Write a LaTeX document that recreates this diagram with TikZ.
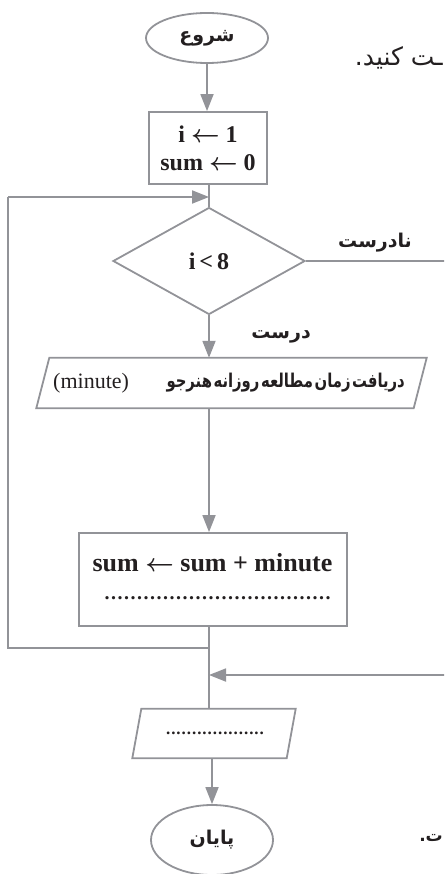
\documentclass[tikz,border=0pt]{standalone}
\usepackage{fontspec}
\setmainfont{Liberation Serif}
\newfontfamily\fa[Script=Arabic]{DejaVu Sans}
\newfontfamily\facond[Script=Arabic,FakeStretch=0.78,WordSpace=0.3]{DejaVu Sans}
\TeXXeTstate=1
\usetikzlibrary{arrows.meta,shapes.geometric}
\definecolor{ln}{RGB}{146,147,152}
\definecolor{tx}{RGB}{35,31,32}
\newcommand\dotrowx[3]{\fontsize{#3}{#3}\selectfont\bfseries\foreach \k in {1,...,#1}{\makebox[#2]{.}}}
\newcommand\larr{{\boldmath$\leftarrow$}}
\begin{document}
\begin{tikzpicture}[x=1pt,y=-1pt,
  every node/.style={text=tx},
  lin/.style={draw=ln,line width=1.8pt},
  box/.style={lin,rectangle,inner sep=0pt},
  term/.style={lin,ellipse,inner sep=0pt},
  dia/.style={lin,diamond,inner sep=0pt},
  arr/.style={lin,-{Triangle[length=17pt,width=13pt,fill=ln]}},
  lat/.style={font=\fontsize{24}{28}\selectfont\bfseries},
  fab/.style={font=\fontsize{19}{22}\selectfont\fa\bfseries}]
\path[use as bounding box] (0,0) rectangle (444,874);
\clip (0,0) rectangle (444,874);

% terminals and boxes
\node[term,minimum width=122pt,minimum height=50pt,fab] (start) at (207,38) {\beginR شروع\endR};
\node[box,minimum width=118pt,minimum height=72pt,align=center,lat] (init) at (208,148) {i \larr\ 1\\sum \larr\ 0};
\node[dia,minimum width=192pt,minimum height=107pt,lat] (cond) at (209,261) {i\,<\,8};

\node[minimum width=377pt,minimum height=50pt,inner sep=0pt] (inp) at (231.5,383) {};
\draw[lin] ([xshift=6.5pt]inp.north west) -- ([xshift=6.5pt]inp.north east)
  -- ([xshift=-6.5pt]inp.south east) -- ([xshift=-6.5pt]inp.south west) -- cycle;
\node[anchor=east,inner sep=0pt,font=\fontsize{19}{22}\selectfont\facond\bfseries] (inpfa) at (405,383) {\beginR دریافت زمان مطالعه روزانه هنرجو\endR};
\node[anchor=west,inner sep=0pt,font=\fontsize{22}{26}\selectfont] (inpen) at (53,383) {(minute)};

\node[box,minimum width=268pt,minimum height=93pt] (sum) at (213,579.5) {};
\node[font=\fontsize{26}{30}\selectfont\bfseries] (sumtxt) at (212.5,563) {sum \larr\ sum + minute};
\node[inner sep=0pt] (dots1) at (217.5,598) {\dotrowx{35}{6.5pt}{20}};

\node[minimum width=154pt,minimum height=49pt,inner sep=0pt] (outp) at (214,733.5) {};
\draw[lin] ([xshift=4.5pt]outp.north west) -- ([xshift=4.5pt]outp.north east)
  -- ([xshift=-4.5pt]outp.south east) -- ([xshift=-4.5pt]outp.south west) -- cycle;
\node[inner sep=0pt] (dots2) at (215,733) {\dotrowx{19}{5.2pt}{17}};

\node[term,minimum width=122pt,minimum height=70pt,fab] (end) at (212,840) {\beginR پایان\endR};

% labels
\node[fab] (lfalse) at (375,243) {\beginR نادرست\endR};
\node[fab] (ltrue) at (281,337) {\beginR درست\endR};

% fragments of surrounding text
\node[anchor=east,inner sep=0pt,font=\fontsize{25}{28}\selectfont\fa] (frag1) at (443,58) {\beginR ـت کنید.\endR};
\node[anchor=east,inner sep=0pt,font=\fontsize{17}{20}\selectfont\fa\bfseries] (frag2) at (443,838) {\beginR ت.\endR};

% junction coordinates
\coordinate (j1) at (209,197);
\coordinate (j2) at (209,648);
\coordinate (j3) at (209,675);
\coordinate (lft1) at (8,197);
\coordinate (lft2) at (8,648);
\coordinate (rt1) at (450,261);
\coordinate (rt2) at (450,675);

% connectors
\draw[arr] (start.south) -- (start.south |- init.north);
\draw[lin] (init.south -| cond.north) -- (cond.north);
\draw[arr] (cond.south) -- (cond.south |- inp.north);
\draw[arr] (cond.south |- inp.south) -- (cond.south |- sum.north);
\draw[lin] (cond.south |- sum.south) -- (cond.south |- outp.north);
\draw[lin] (j2) -- (lft2) -- (lft1);
\draw[arr] (lft1) -- (j1);
\draw[lin] (cond.east) -- (rt1);
\draw[arr] (rt2) -- (j3);
\draw[arr] (end.north |- outp.south) -- (end.north);
\end{tikzpicture}
\end{document}
